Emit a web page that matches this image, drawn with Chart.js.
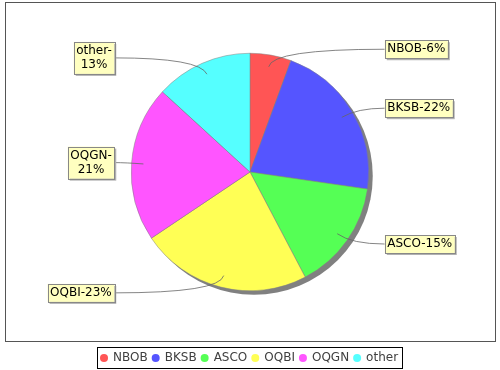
<!DOCTYPE html>
<html>
<head>
<meta charset="utf-8">
<script src="https://cdn.jsdelivr.net/npm/chart.js@4.4.0/dist/chart.umd.min.js"></script>
<style>
  html, body { margin: 0; padding: 0; background: #fff; }
  #wrap { width: 500px; height: 370px; }
</style>
</head>
<body>
<div id="wrap"><canvas id="graficoPizza" width="500" height="370"></canvas></div>
<script>
const categorias = ['NBOB', 'BKSB', 'ASCO', 'OQBI', 'OQGN', 'other'];
const valores = [5.6, 21.7, 15.0, 23.3, 21.2, 13.2];
const rotulos = [['NBOB-6%'], ['BKSB-22%'], ['ASCO-15%'], ['OQBI-23%'], ['OQGN-', '21%'], ['other-', '13%']];
const cores = ['#FF5555', '#5555FF', '#55FF55', '#FFFF55', '#FF55FF', '#55FFFF'];

const FONTE = '12px "DejaVu Sans", sans-serif';

// fundo branco e moldura da area do grafico
const moldura = {
    id: 'moldura',
    beforeDraw(chart) {
        const ctx = chart.ctx;
        ctx.save();
        ctx.fillStyle = '#fff';
        ctx.fillRect(0, 0, chart.width, chart.height);
        ctx.strokeStyle = '#555';
        ctx.lineWidth = 1;
        ctx.strokeRect(5.5, 2.5, 490, 339);
        ctx.restore();
    }
};

// sombra cinza atras da pizza
const sombraPizza = {
    id: 'sombraPizza',
    beforeDatasetsDraw(chart) {
        const arc = chart.getDatasetMeta(0).data[0];
        const ctx = chart.ctx;
        ctx.save();
        ctx.fillStyle = '#808080';
        ctx.beginPath();
        ctx.arc(arc.x + 4, arc.y + 4, arc.outerRadius, 0, Math.PI * 2);
        ctx.fill();
        ctx.restore();
    }
};

// caixinhas amarelas com as linhas de ligacao
const rotulosPizza = {
    id: 'rotulosPizza',
    afterDatasetsDraw(chart) {
        const ctx = chart.ctx;
        const arcs = chart.getDatasetMeta(0).data;
        ctx.save();
        ctx.font = FONTE;
        arcs.forEach((arc, i) => {
            const meio = (arc.startAngle + arc.endAngle) / 2;
            const cx = arc.x, cy = arc.y, r = arc.outerRadius;
            const dx = Math.cos(meio), dy = Math.sin(meio);
            const ax = cx + dx * r * 0.9, ay = cy + dy * r * 0.9;
            const ty = cy + dy * r * 1.05;
            const direita = dx >= 0;
            const linhas = rotulos[i];
            const larg = Math.max(...linhas.map(l => ctx.measureText(l).width)) + 5;
            const alt = linhas.length * 14 + 4;
            const bx = direita ? cx + r + 16 : cx - r - 17 - larg;
            const by = ty - alt / 2;
            const tx = direita ? bx : bx + larg;

            // ponto de controle onde o raio cruza a altura do rotulo
            let kx = Math.abs(dy) > 0.01 ? cx + dx * (ty - cy) / dy : tx;
            kx = Math.min(Math.max(kx, Math.min(ax, tx)), Math.max(ax, tx));

            ctx.strokeStyle = '#666';
            ctx.lineWidth = 0.8;
            ctx.beginPath();
            ctx.moveTo(ax, ay);
            ctx.quadraticCurveTo(kx, ty, tx, ty);
            ctx.stroke();

            ctx.fillStyle = '#b0b0b0';
            ctx.fillRect(bx + 2, by + 2, larg, alt);
            ctx.fillStyle = '#FFFFC0';
            ctx.fillRect(bx, by, larg, alt);
            ctx.strokeStyle = '#888';
            ctx.lineWidth = 1;
            ctx.strokeRect(Math.round(bx) + 0.5, Math.round(by) + 0.5, Math.round(larg), Math.round(alt));

            ctx.fillStyle = '#000';
            ctx.textAlign = 'center';
            ctx.textBaseline = 'middle';
            linhas.forEach((l, j) => {
                ctx.fillText(l, bx + larg / 2, by + 2 + 7 + j * 14);
            });
        });
        ctx.restore();
    }
};

// legenda com borda, embaixo
const legenda = {
    id: 'legenda',
    afterDraw(chart) {
        const ctx = chart.ctx;
        ctx.save();
        ctx.font = FONTE;
        const larguras = categorias.map(c => ctx.measureText(c).width);
        const total = 3 + larguras.reduce((s, w) => s + 13 + w, 0) + 4 * (categorias.length - 1) + 4;
        const x0 = Math.round(250 - total / 2);
        const yc = 358;
        ctx.strokeStyle = '#000';
        ctx.lineWidth = 1;
        ctx.strokeRect(x0 + 0.5, 347.5, Math.round(total), 21);
        let x = x0 + 3;
        ctx.textAlign = 'left';
        ctx.textBaseline = 'middle';
        categorias.forEach((c, i) => {
            ctx.fillStyle = cores[i];
            ctx.beginPath();
            ctx.arc(x + 4, yc, 4, 0, Math.PI * 2);
            ctx.fill();
            ctx.fillStyle = '#404040';
            ctx.fillText(c, x + 13, yc);
            x += 13 + larguras[i] + 4;
        });
        ctx.restore();
    }
};

const ctx = document.getElementById('graficoPizza').getContext('2d');
new Chart(ctx, {
    type: 'pie',
    data: {
        labels: categorias,
        datasets: [{
            data: valores,
            backgroundColor: cores,
            borderColor: '#808080',
            borderWidth: 0.5
        }]
    },
    options: {
        responsive: false,
        devicePixelRatio: 1,
        animation: false,
        layout: {
            padding: { top: 53, left: 131, right: 131, bottom: 79 }
        },
        plugins: {
            legend: { display: false },
            tooltip: { enabled: false }
        }
    },
    plugins: [moldura, sombraPizza, rotulosPizza, legenda]
});
</script>
</body>
</html>
